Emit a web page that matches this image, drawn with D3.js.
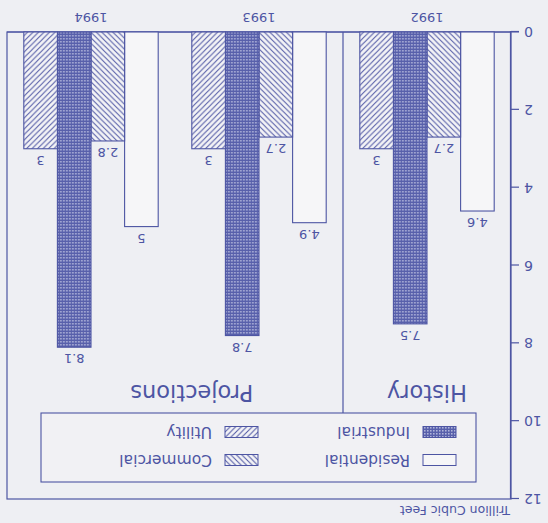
<!DOCTYPE html>
<html>
<head>
<meta charset="utf-8">
<script src="https://cdn.jsdelivr.net/npm/d3@7/dist/d3.min.js"></script>
<style>
  html, body { margin: 0; padding: 0; background: #eeeff3; }
  svg { display: block; }
  text { font-family: "DejaVu Sans", Verdana, sans-serif; fill: #4d55a3; }
</style>
</head>
<body>
<svg id="chart" width="548" height="523"></svg>
<script>
// Natural gas consumption by sector, trillion cubic feet
const years = ["1992", "1993", "1994"];
const sectors = ["Residential", "Commercial", "Industrial", "Utility"];
const residential = [4.6, 4.9, 5];
const commercial = [2.7, 2.7, 2.8];
const industrial = [7.5, 7.8, 8.1];
const utility = [3, 3, 3];
const yTicks = [0, 2, 4, 6, 8, 10, 12];
const periods = ["History", "Projections"];
const axisTitle = "Trillion Cubic Feet";

const seriesValues = { Residential: residential, Commercial: commercial, Industrial: industrial, Utility: utility };
const ink = "#4d55a3";

const W = 548, H = 523;
const svg = d3.select("#chart");
const defs = svg.append("defs");

// fill patterns for each sector
const pDot = defs.append("pattern").attr("id", "p-ind").attr("patternUnits", "userSpaceOnUse")
  .attr("width", 3).attr("height", 3);
pDot.append("rect").attr("width", 3).attr("height", 3).attr("fill", "#5860ab");
pDot.append("rect").attr("x", 0.5).attr("y", 0.5).attr("width", 1.4).attr("height", 1.4).attr("fill", "#c4c8e6");

function hatch(id, dir) {
  const p = defs.append("pattern").attr("id", id).attr("patternUnits", "userSpaceOnUse")
    .attr("width", 5.5).attr("height", 5.5);
  p.append("rect").attr("width", 5.5).attr("height", 5.5).attr("fill", "#f3f3f6");
  const d = dir > 0
    ? "M-1,1 L1,-1 M0,5.5 L5.5,0 M4.5,6.5 L6.5,4.5"
    : "M-1,4.5 L1,6.5 M0,0 L5.5,5.5 M4.5,-1 L6.5,1";
  p.append("path").attr("d", d).attr("stroke", ink).attr("stroke-width", 1);
}
hatch("p-com", -1);
hatch("p-utl", 1);

const fills = { Residential: "#f6f6f8", Commercial: "url(#p-com)", Industrial: "url(#p-ind)", Utility: "url(#p-utl)" };

// the sheet is drawn turned half a revolution
const g = svg.append("g").attr("transform", `rotate(180 ${W / 2} ${H / 2})`);

const plotLeft = 37, plotRight = 541, plotTop = 24, plotBottom = 491;

const x0 = d3.scaleBand().domain(years).range([plotLeft, plotRight]).paddingInner(0.2).paddingOuter(0.1);
const x1 = d3.scaleBand().domain(sectors).range([0, x0.bandwidth()]);
const y = d3.scaleLinear().domain([0, 12]).range([plotBottom, plotTop]);

// frame
g.append("rect").attr("x", plotLeft).attr("y", plotTop).attr("width", plotRight - plotLeft).attr("height", plotBottom - plotTop)
  .attr("fill", "none").attr("stroke", ink).attr("stroke-width", 1.2);

// value axis
const yAxis = g.append("g").attr("transform", `translate(${plotLeft},0)`)
  .call(d3.axisLeft(y).tickValues(yTicks).tickSize(8).tickPadding(5).tickFormat(d3.format("d")));
yAxis.select(".domain").attr("stroke", ink).attr("stroke-width", 1.2);
yAxis.selectAll(".tick line").attr("stroke", ink).attr("stroke-width", 1.2);
yAxis.selectAll(".tick text").attr("fill", ink).style("font-size", "14px")
  .style("font-family", "DejaVu Sans, sans-serif");

// zero baseline runs into the tick
g.append("line").attr("x1", plotLeft - 8).attr("x2", plotRight).attr("y1", y(0)).attr("y2", y(0))
  .attr("stroke", ink).attr("stroke-width", 1.2);

// bars
const groups = g.selectAll(".yr").data(years).join("g").attr("class", "yr")
  .attr("transform", d => `translate(${x0(d)},0)`);

groups.selectAll("rect").data((d, i) => sectors.map(s => ({ s, v: seriesValues[s][i] })))
  .join("rect")
  .attr("x", d => x1(d.s)).attr("width", x1.bandwidth())
  .attr("y", d => y(d.v)).attr("height", d => y(0) - y(d.v))
  .attr("fill", d => fills[d.s]).attr("stroke", ink).attr("stroke-width", 1.1);

groups.selectAll(".val").data((d, i) => sectors.map(s => ({ s, v: seriesValues[s][i] })))
  .join("text").attr("class", "val")
  .attr("x", d => x1(d.s) + x1.bandwidth() / 2)
  .attr("y", d => y(d.v) - 7)
  .attr("text-anchor", "middle").style("font-size", "13px")
  .text(d => d.v);

// year labels
g.selectAll(".yl").data(years).join("text").attr("class", "yl")
  .attr("x", d => x0(d) + x0.bandwidth() / 2).attr("y", plotBottom + 19)
  .attr("text-anchor", "middle").style("font-size", "13px").text(d => d);

// history / projections split
const split = (x0("1992") + x0.bandwidth() + x0("1993")) / 2;
const legTop = 41, legBottom = 110, legLeft = 72, legRight = 507;
g.append("line").attr("x1", split).attr("x2", split).attr("y1", legBottom).attr("y2", plotBottom)
  .attr("stroke", ink).attr("stroke-width", 1.2);

g.append("text").attr("x", (plotLeft + split) / 2).attr("y", 138).attr("text-anchor", "middle")
  .style("font-size", "22.5px").text(periods[0]);
g.append("text").attr("x", x0("1993") + x0.bandwidth()).attr("y", 138).attr("text-anchor", "middle")
  .style("font-size", "22.5px").text(periods[1]);

// legend
g.append("rect").attr("x", legLeft).attr("y", legTop).attr("width", legRight - legLeft).attr("height", legBottom - legTop)
  .attr("fill", "#f1f1f4").attr("stroke", ink).attr("stroke-width", 1.1);

const legendItems = [
  { s: "Residential", col: 0, row: 0 },
  { s: "Industrial", col: 0, row: 1 },
  { s: "Commercial", col: 1, row: 0 },
  { s: "Utility", col: 1, row: 1 }
];
const li = g.selectAll(".leg").data(legendItems).join("g").attr("class", "leg")
  .attr("transform", d => `translate(${92 + d.col * 198},${63 + d.row * 28})`);
li.append("rect").attr("x", 0).attr("y", -5.5).attr("width", 33).attr("height", 11)
  .attr("fill", d => fills[d.s]).attr("stroke", ink).attr("stroke-width", 1);
li.append("text").attr("x", 46).attr("y", 5.5).style("font-size", "15.5px").text(d => d.s);

// axis title
g.append("text").attr("x", plotLeft + 1).attr("y", 17).style("font-size", "12.5px").text(axisTitle);
</script>
</body>
</html>
